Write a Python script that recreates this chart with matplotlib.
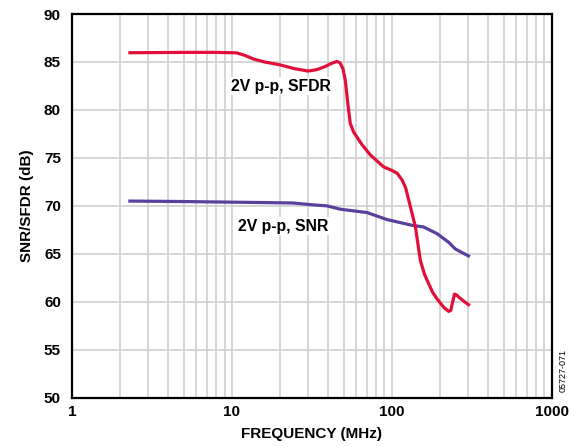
import matplotlib
matplotlib.use("Agg")
import matplotlib.pyplot as plt
from matplotlib.ticker import LogLocator, FixedLocator, NullFormatter

plt.rcParams['font.family'] = ['Liberation Sans', 'DejaVu Sans']

sfdr_freq = [2.25, 5, 8, 10.7, 12, 13.7, 16, 20, 24.2, 30, 34, 38, 42, 45.4, 47.5, 49.5, 51.2, 53, 55, 57.7,
             65, 73.5, 89, 100, 108, 116, 122, 127.7, 134, 140.6, 151, 160, 170, 180, 192, 212, 227, 234, 239, 247, 255, 262, 285, 308]
sfdr_db = [85.96, 86.0, 86.0, 85.95, 85.7, 85.3, 85.0, 84.7, 84.33, 84.05, 84.2, 84.5, 84.85, 85.06, 84.9, 84.3, 83.1, 80.8, 78.6, 77.7,
           76.4, 75.3, 74.06, 73.7, 73.4, 72.7, 71.9, 70.6, 69.2, 67.8, 64.3, 62.9, 61.9, 61.0, 60.3, 59.4, 59.0, 59.1, 59.8, 60.8, 60.7, 60.5, 60.0, 59.6]

snr_freq = [2.25, 5, 8.45, 15, 24, 32.3, 39.3, 47.7, 70, 93.4, 134, 158, 192, 227, 250, 308]
snr_db = [70.5, 70.45, 70.4, 70.35, 70.3, 70.1, 70.0, 69.65, 69.3, 68.57, 67.97, 67.8, 67.1, 66.2, 65.5, 64.7]

y_ticks = [50, 55, 60, 65, 70, 75, 80, 85, 90]
x_ticks = [1, 10, 100, 1000]
x_tick_labels = ['1', '10', '100', '1000']

fig = plt.figure(figsize=(5.71, 4.46), dpi=100)
ax = fig.add_axes([0.1261, 0.1083, 0.840, 0.8603])

ax.set_xscale('log')
ax.set_xlim(1, 1000)
ax.set_ylim(50, 90)

ax.plot(snr_freq, snr_db, color='#5B3F9E', lw=2.3, solid_capstyle='butt', solid_joinstyle='round', zorder=3)
ax.plot(sfdr_freq, sfdr_db, color='#E0103A', lw=2.3, solid_capstyle='butt', solid_joinstyle='round', zorder=3)

ax.xaxis.set_major_locator(FixedLocator(x_ticks))
ax.set_xticklabels(x_tick_labels)
ax.xaxis.set_minor_locator(LogLocator(base=10, subs=range(2, 10)))
ax.xaxis.set_minor_formatter(NullFormatter())
ax.set_yticks(y_ticks)

ax.grid(True, which='both', axis='x', color='#CCCCCC', lw=1.1)
ax.grid(True, which='major', axis='y', color='#CCCCCC', lw=1.1)
ax.set_axisbelow(True)

ax.tick_params(which='both', length=0)
ax.tick_params(axis='y', pad=8, labelsize=11)
ax.tick_params(axis='x', pad=5, labelsize=11)
for lab in ax.get_xticklabels() + ax.get_yticklabels():
    lab.set_fontweight('bold')

for s in ax.spines.values():
    s.set_linewidth(1.6)
    s.set_color('black')

ax.set_xlabel('FREQUENCY (MHz)', fontsize=11, fontweight='bold', labelpad=6)
ax.set_ylabel('SNR/SFDR (dB)', fontsize=11, fontweight='bold', labelpad=7)

ax.text(281, 86, '2V p-p, SFDR', transform=None, fontsize=11.3, fontweight='bold',
        ha='center', va='center', zorder=2,
        bbox=dict(facecolor='white', edgecolor='none', pad=1))
ax.text(283, 226, '2V p-p, SNR', transform=None, fontsize=11.3, fontweight='bold',
        ha='center', va='center', zorder=2,
        bbox=dict(facecolor='white', edgecolor='none', pad=1))

# place annotation texts in pixel coordinates (top-left origin)
for t in ax.texts:
    x, y = t.get_position()
    t.set_position((x, 446 - y))

fig.text(563 / 571, 1 - 370 / 446, '05727-071', rotation=90, fontsize=6.5,
         ha='center', va='center')

fig.savefig('out.png', dpi=100)
